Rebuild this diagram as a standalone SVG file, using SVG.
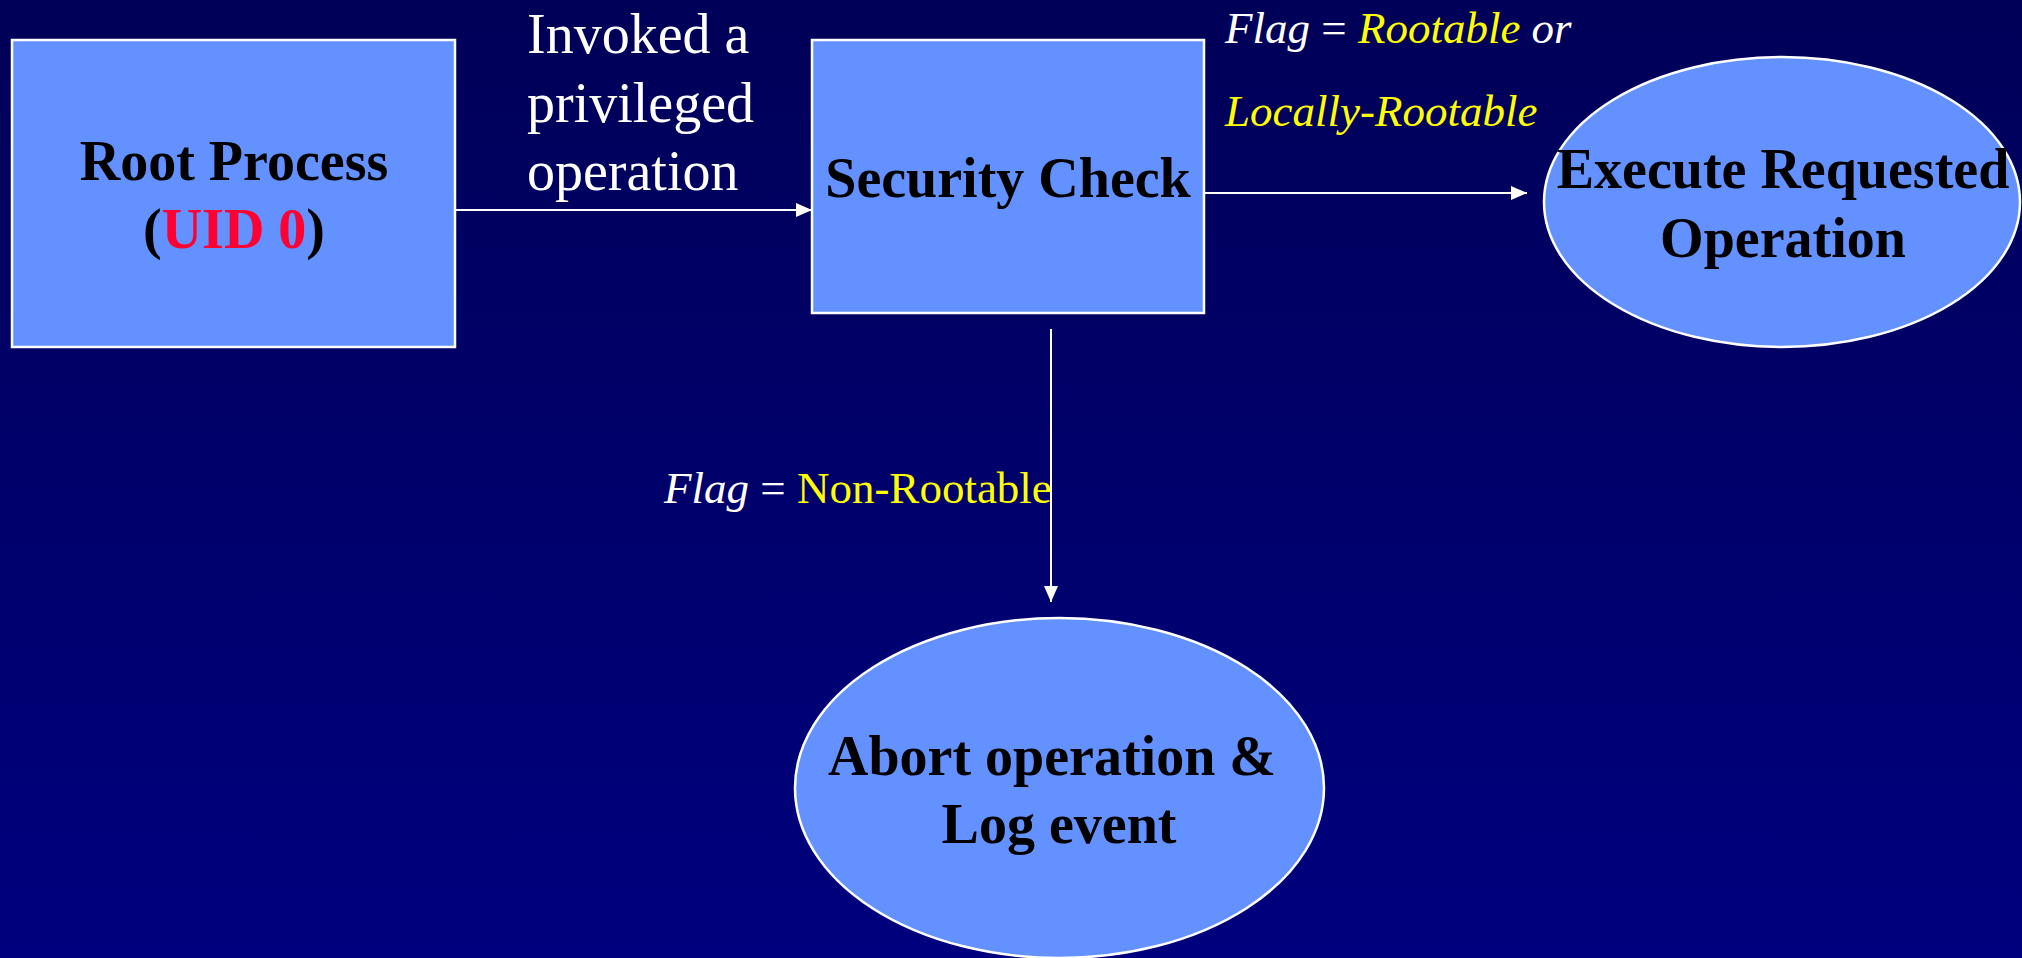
<svg xmlns="http://www.w3.org/2000/svg" width="2022" height="958" viewBox="0 0 2022 958">
<defs>
<linearGradient id="bg" x1="0" y1="0" x2="0" y2="1">
<stop offset="0" stop-color="#000058"/>
<stop offset="1" stop-color="#00007E"/>
</linearGradient>
<marker id="ah" viewBox="0 0 10 10" refX="10" refY="5" markerWidth="8" markerHeight="8" markerUnits="userSpaceOnUse" orient="auto" style="overflow:visible">
<path d="M0,0 L10,5 L0,10 Z" fill="#FFFFFF"/>
</marker>
<marker id="arr" viewBox="0 0 16 14" refX="16" refY="7" markerWidth="16" markerHeight="14" markerUnits="userSpaceOnUse" orient="auto">
<path d="M0,0 L16,7 L0,14 Z" fill="#FFFFFF"/>
</marker>
</defs>
<style>
.node{fill:#6391FF;stroke:#FFFFFF;stroke-width:2.5}
.nt{font-family:"Liberation Serif","Times New Roman",serif;font-weight:bold;font-size:56px;fill:#000000;text-anchor:middle}
.lbl{font-family:"Liberation Serif","Times New Roman",serif;font-size:56px;fill:#FFFFFF}
.sm{font-family:"Liberation Serif","Times New Roman",serif;font-size:45px;fill:#FFFFFF}
.it{font-style:italic}
.y{fill:#FFFF00}
.conn{stroke:#FFFFFF;stroke-width:2;fill:none;marker-end:url(#arr)}
</style>
<rect x="0" y="0" width="2022" height="958" fill="url(#bg)"/>
<g id="connectors">
<line class="conn" x1="455" y1="210" x2="812" y2="210"/>
<line class="conn" x1="1204" y1="193" x2="1527" y2="193"/>
<line class="conn" x1="1051" y1="329" x2="1051" y2="602"/>
</g>
<g id="edge-labels">
<text class="lbl" x="527" y="53">Invoked a</text>
<text class="lbl" x="527" y="122">privileged</text>
<text class="lbl" x="527" y="190">operation</text>
<text class="sm" x="1225" y="43"><tspan class="it">Flag</tspan> = <tspan class="it y">Rootable</tspan> <tspan class="it">or</tspan></text>
<text class="sm it y" x="1225" y="126">Locally-Rootable</text>
<text class="sm" x="664" y="503"><tspan class="it">Flag</tspan> = <tspan class="y">Non-Rootable</tspan></text>
</g>
<g id="root-process">
<rect class="node" x="12" y="40" width="443" height="307"/>
<text class="nt" x="234" y="180">Root Process</text>
<text class="nt" x="234" y="248">(<tspan fill="#FF0033">UID 0</tspan>)</text>
</g>
<g id="security-check">
<rect class="node" x="812" y="40" width="392" height="273"/>
<text class="nt" x="1008" y="197">Security Check</text>
</g>
<g id="execute-operation">
<ellipse class="node" cx="1782" cy="202" rx="238" ry="145"/>
<text class="nt" x="1783" y="188">Execute Requested</text>
<text class="nt" x="1783" y="257">Operation</text>
</g>
<g id="abort-operation">
<ellipse class="node" cx="1059.5" cy="788" rx="264.5" ry="170"/>
<text class="nt" x="1052" y="775">Abort operation &amp;</text>
<text class="nt" x="1059" y="843">Log event</text>
</g>
</svg>
